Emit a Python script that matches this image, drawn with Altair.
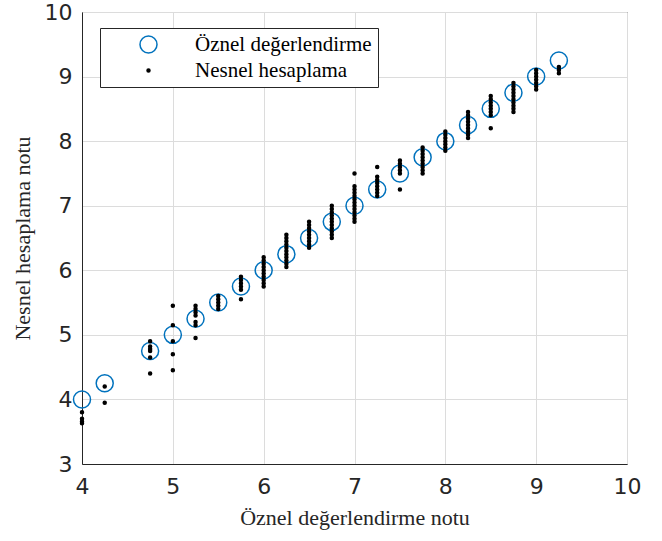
import altair as alt
import pandas as pd

# Subjective grades (x) and the matching subjective value (y = x)
grades = [4.0, 4.25, 4.75, 5.0, 5.25, 5.5, 5.75, 6.0, 6.25, 6.5, 6.75,
          7.0, 7.25, 7.5, 7.75, 8.0, 8.25, 8.5, 8.75, 9.0, 9.25]

# Computed (objective) grades found for each subjective grade
computed = [
    [3.80, 3.70, 3.66, 3.63],
    [4.20, 3.95],
    [4.90, 4.82, 4.78, 4.75, 4.65, 4.40],
    [5.45, 5.15, 4.90, 4.70, 4.45],
    [5.45, 5.40, 5.35, 5.30, 5.20, 5.15, 4.95],
    [5.60, 5.55, 5.50, 5.45, 5.40],
    [5.90, 5.85, 5.80, 5.75, 5.70, 5.55],
    [6.20, 6.15, 6.10, 6.05, 6.00, 5.95, 5.90, 5.85, 5.80, 5.75],
    [6.55, 6.50, 6.45, 6.40, 6.35, 6.30, 6.25, 6.20, 6.15, 6.10, 6.05],
    [6.75, 6.70, 6.65, 6.60, 6.55, 6.50, 6.45, 6.40, 6.35],
    [7.00, 6.95, 6.90, 6.85, 6.80, 6.75, 6.70, 6.65, 6.60, 6.55, 6.50],
    [7.50, 7.30, 7.25, 7.20, 7.15, 7.10, 7.05, 7.00, 6.95, 6.90, 6.85, 6.80, 6.75],
    [7.60, 7.45, 7.40, 7.35, 7.30, 7.25, 7.20, 7.15],
    [7.70, 7.65, 7.60, 7.55, 7.50, 7.25],
    [7.90, 7.85, 7.80, 7.75, 7.70, 7.65, 7.60, 7.55, 7.50],
    [8.15, 8.10, 8.05, 8.00, 7.95, 7.90, 7.85],
    [8.45, 8.40, 8.35, 8.30, 8.25, 8.20, 8.15, 8.10, 8.05],
    [8.70, 8.65, 8.60, 8.55, 8.50, 8.45, 8.40, 8.20],
    [8.90, 8.85, 8.80, 8.75, 8.70, 8.65, 8.60, 8.55, 8.50, 8.45],
    [9.10, 9.05, 9.00, 8.95, 8.90, 8.85, 8.80],
    [9.15, 9.10, 9.05],
]

series_names = ["Öznel değerlendirme", "Nesnel hesaplama"]

rows = [{"x": g, "y": g, "seri": series_names[0]} for g in grades]
for g, vals in zip(grades, computed):
    rows += [{"x": g, "y": v, "seri": series_names[1]} for v in vals]
df = pd.DataFrame(rows)

serif = "Liberation Serif"
sans = "DejaVu Sans"
dark = "#262626"

legend = alt.Legend(
    title=None,
    orient="none",
    legendX=18,
    legendY=16,
    fillColor="white",
    strokeColor=dark,
    padding=6,
    symbolOffset=32,
    labelOffset=36,
    labelLimit=400,
    rowPadding=2,
    labelFont=serif,
    labelFontSize=21,
    labelColor="black",
    symbolStrokeWidth=1.5,
)

chart = alt.Chart(df).mark_point(shape="circle", strokeWidth=1.5, opacity=1).encode(
    x=alt.X("x:Q",
            scale=alt.Scale(domain=[4, 10], nice=False),
            axis=alt.Axis(values=[4, 5, 6, 7, 8, 9, 10], title="Öznel değerlendirme notu",
                          titlePadding=10)),
    y=alt.Y("y:Q",
            scale=alt.Scale(domain=[3, 10], nice=False),
            axis=alt.Axis(values=[3, 4, 5, 6, 7, 8, 9, 10], title="Nesnel hesaplama notu",
                          titlePadding=10)),
    stroke=alt.Stroke("seri:N", scale=alt.Scale(domain=series_names, range=["#0072BD", "black"]),
                      legend=legend),
    fill=alt.Fill("seri:N", scale=alt.Scale(domain=series_names, range=["transparent", "black"]),
                  legend=legend),
    size=alt.Size("seri:N", scale=alt.Scale(domain=series_names, range=[290, 9]),
                  legend=legend),
).properties(
    width=545,
    height=452,
    autosize=alt.AutoSizeParams(type="none"),
    padding={"left": 82, "top": 12, "right": 35, "bottom": 77},
).configure_view(
    stroke=dark,
    strokeWidth=1,
).configure_axis(
    domainColor=dark,
    domainWidth=1,
    grid=True,
    gridColor="#dcdcdc",
    gridWidth=1,
    ticks=False,
    labelFlush=False,
    labelOverlap=False,
    labelBound=False,
    labelFont=sans,
    labelFontSize=22,
    labelColor=dark,
    titleFont=serif,
    titleFontSize=22,
    titleFontWeight="normal",
    titleColor=dark,
).configure_axisX(
    labelPadding=12,
).configure_axisY(
    labelPadding=10,
)

chart.save("out.html", embed_options={"renderer": "svg", "actions": False})
